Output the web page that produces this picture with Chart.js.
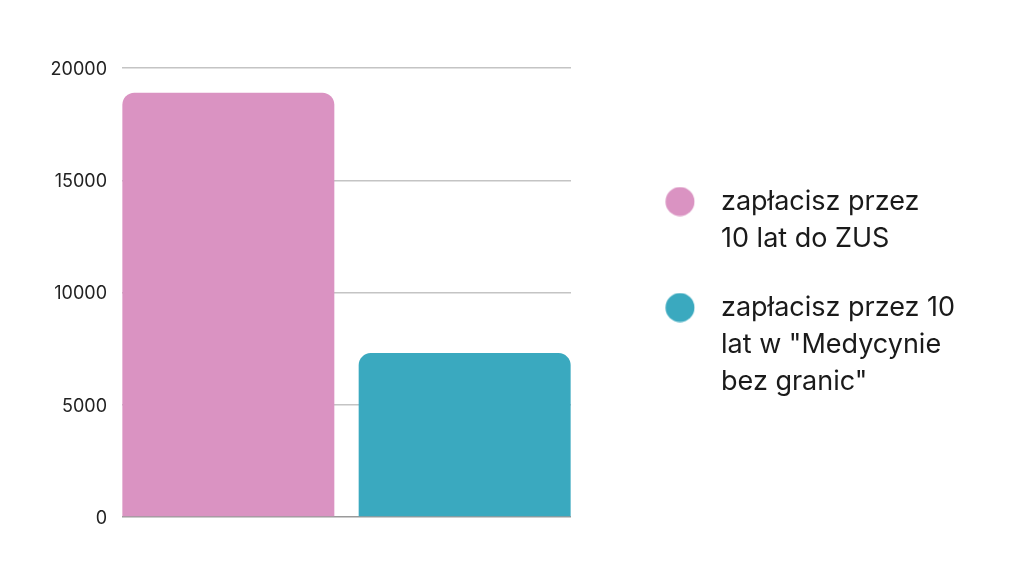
<!DOCTYPE html>
<html>
<head>
<meta charset="utf-8">
<script src="https://cdn.jsdelivr.net/npm/chart.js@4.4.0/dist/chart.umd.min.js"></script>
<style>
  html, body { margin: 0; padding: 0; background: #ffffff; }
  #wrap { width: 1024px; height: 577px; }
</style>
</head>
<body>
<div id="wrap"><canvas id="c"></canvas></div>
<script>
// ---- data ----
const categories = [
  ["zapłacisz przez", "10 lat do ZUS"],
  ["zapłacisz przez 10", "lat w \"Medycynie", "bez granic\""]
];
const values = [18900, 7300];
const barColors = ["#DA93C2", "#3AA9BF"];
const yTicks = [0, 5000, 10000, 15000, 20000];

// legend marker image (circle offset inside a wider canvas)
function makeMarker(color) {
  const cv = document.createElement('canvas');
  cv.width = 80; cv.height = 30;
  const cx = cv.getContext('2d');
  cx.fillStyle = color;
  cx.beginPath();
  cx.arc(64.75, 15, 14.5, 0, Math.PI * 2);
  cx.fill();
  return cv;
}
const markers = barColors.map(makeMarker);

const legendPlacePlugin = {
  id: 'legendPlace',
  beforeLayout(chart) {
    const lg = chart.legend;
    if (lg && !lg._patched) {
      const orig = lg.fit;
      lg.fit = function () { orig.call(this); this.width = 453; };
      lg._patched = true;
    }
  },
  afterLayout(chart) {
    const lg = chart.legend;
    if (lg) { lg.top += 4; lg.bottom += 4; }
  }
};

const points = values.map((v, i) => ({ x: i, y: v }));

new Chart(document.getElementById('c'), {
  type: 'bar',
  data: {
    datasets: [{
      data: points,
      backgroundColor: barColors,
      borderRadius: { topLeft: 12, topRight: 12, bottomLeft: 0, bottomRight: 0 },
      borderSkipped: false,
      barPercentage: 0.897,
      categoryPercentage: 1
    }]
  },
  plugins: [legendPlacePlugin],
  options: {
    responsive: true,
    maintainAspectRatio: false,
    animation: false,
    devicePixelRatio: 1,
    layout: { padding: { top: 68, bottom: 60, left: 0, right: 0 } },
    scales: {
      x: {
        type: 'linear',
        display: false,
        offset: false,
        min: -0.45,
        max: 1.45,
        afterBuildTicks(scale) { scale.ticks = values.map((v, i) => ({ value: i })); },
        grid: { display: false, offset: false }
      },
      y: {
        min: 0,
        max: 20000,
        afterFit(scale) { scale.width = 122; },
        afterBuildTicks(scale) { scale.ticks = yTicks.map(v => ({ value: v })); },
        border: { display: false },
        grid: {
          drawTicks: false,
          lineWidth: 1.5,
          color: (ctx) => ctx.tick && ctx.tick.value === 0 ? '#9a9a9a' : '#c4c4c4'
        },
        ticks: {
          padding: 15,
          labelOffset: 1.5,
          color: '#222222',
          font: { family: 'Inter', size: 18 },
          callback: (v) => String(v)
        }
      }
    },
    plugins: {
      tooltip: { enabled: false },
      legend: {
        position: 'right',
        align: 'center',
        labels: {
          usePointStyle: true,
          pointStyleWidth: 104.5,
          padding: 32,
          color: '#1a1a1a',
          font: { family: 'Inter', size: 27, lineHeight: 1.37 },
          generateLabels: () => categories.map((c, i) => ({
            text: c,
            fillStyle: barColors[i],
            strokeStyle: barColors[i],
            lineWidth: 0,
            pointStyle: markers[i],
            fontColor: '#1a1a1a',
            hidden: false,
            index: i
          }))
        }
      }
    }
  }
});
</script>
</body>
</html>
